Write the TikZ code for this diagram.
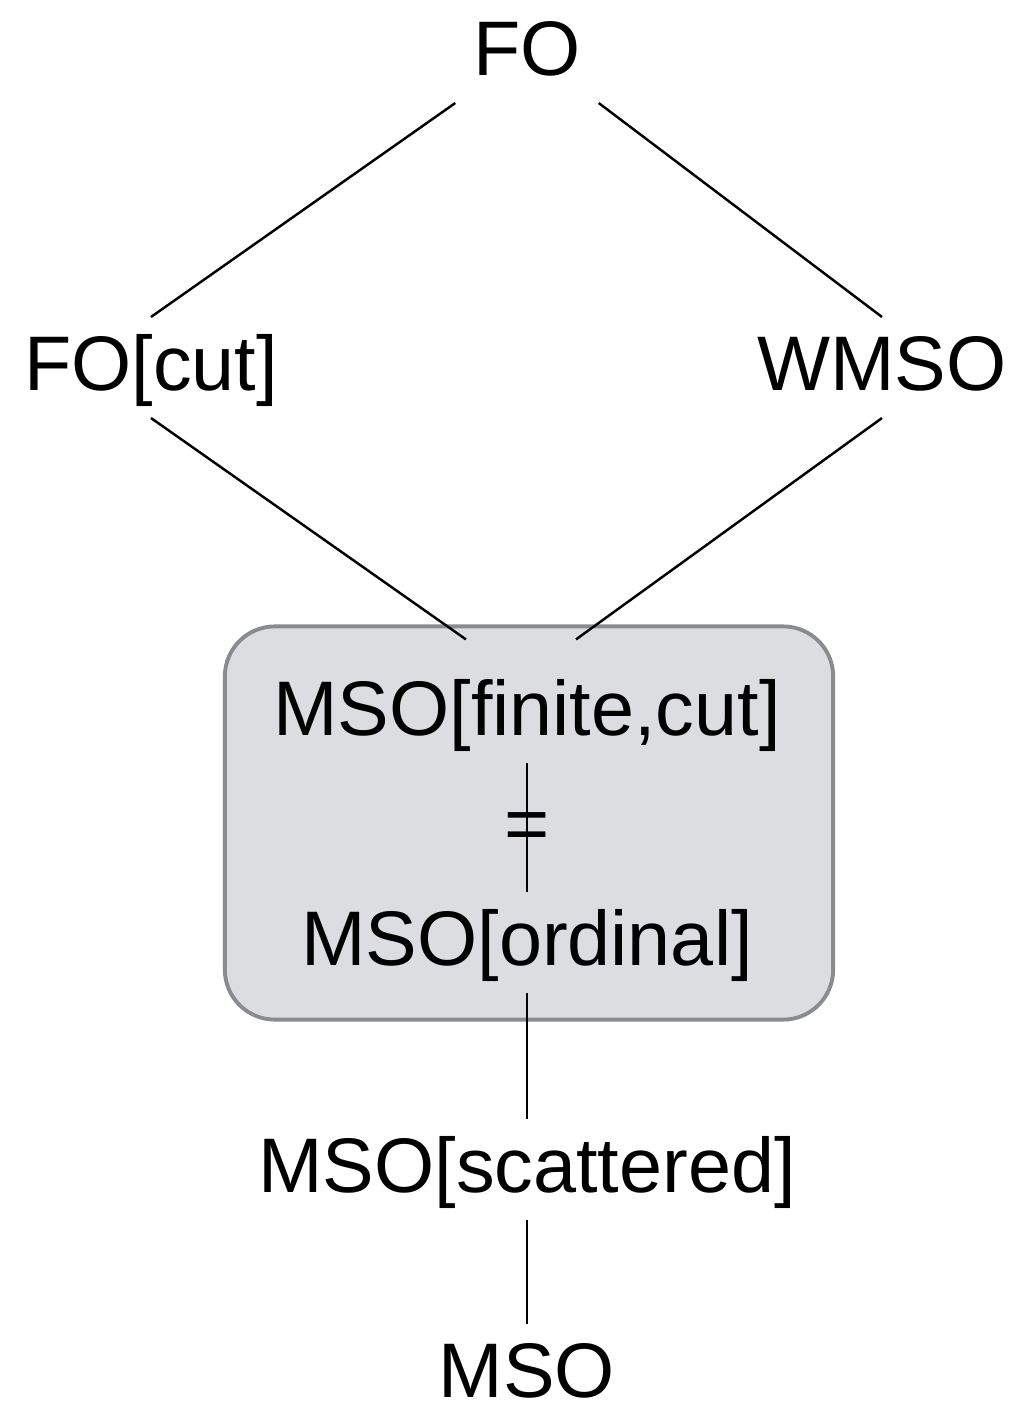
\documentclass[tikz,border=0pt]{standalone}
\usepackage{fontspec}
\setmainfont{Liberation Sans}
\usetikzlibrary{calc}
\definecolor{boxfill}{RGB}{220,221,224}
\definecolor{boxline}{RGB}{138,139,142}

\begin{document}
\begin{tikzpicture}[x=0.01cm, y=-0.01cm,
    every node/.style={font=\fontsize{22}{26}\selectfont, inner sep=0pt, outer sep=0.18cm, text height=0.55cm, text depth=0.1cm},
    logic/.style={anchor=base},
    link/.style={line width=0.7pt}]
            \useasboundingbox (0,0) rectangle (1011,1408);
            \node[draw=boxline, fill=boxfill, line width=1.1pt, rounded corners=0.5cm, minimum width=6.08cm, minimum height=3.93cm, text height=, text depth=, outer sep=0pt] (box) at (529,823) {};
            \node[logic] (fo) at (527,75) {FO};
            \node[logic] (focut) at (151,390) {FO[cut]};
            \node[logic] (wmso) at (882,390) {WMSO};
            \node[logic] (finite) at (527,735) {MSO[finite,cut]};
            \node[logic] (ordinal) at (527,965) {MSO[ordinal]};
            \node[logic] (scattered) at (527,1192) {MSO[scattered]};
            \node[logic] (mso) at (527,1397) {MSO};
            \coordinate (boxl) at ($(box.north)+(-0.63cm,-0.13cm)$);
            \coordinate (boxr) at ($(box.north)+(0.47cm,-0.13cm)$);
            \draw[link] (fo.south west) -- (focut.north);
            \draw[link] (fo.south east) -- (wmso.north);
            \draw[link] (focut.south) -- (boxl);
            \draw[link] (wmso.south) -- (boxr);
            \draw[link] (finite.south) -- (ordinal.north);
            \node[text height=, text depth=, outer sep=0pt] (eq) at (527,832) {=};
            \draw[link] (ordinal.south) -- (scattered.north);
            \draw[link] (scattered.south) -- (mso.north);
        \end{tikzpicture}
\end{document}
